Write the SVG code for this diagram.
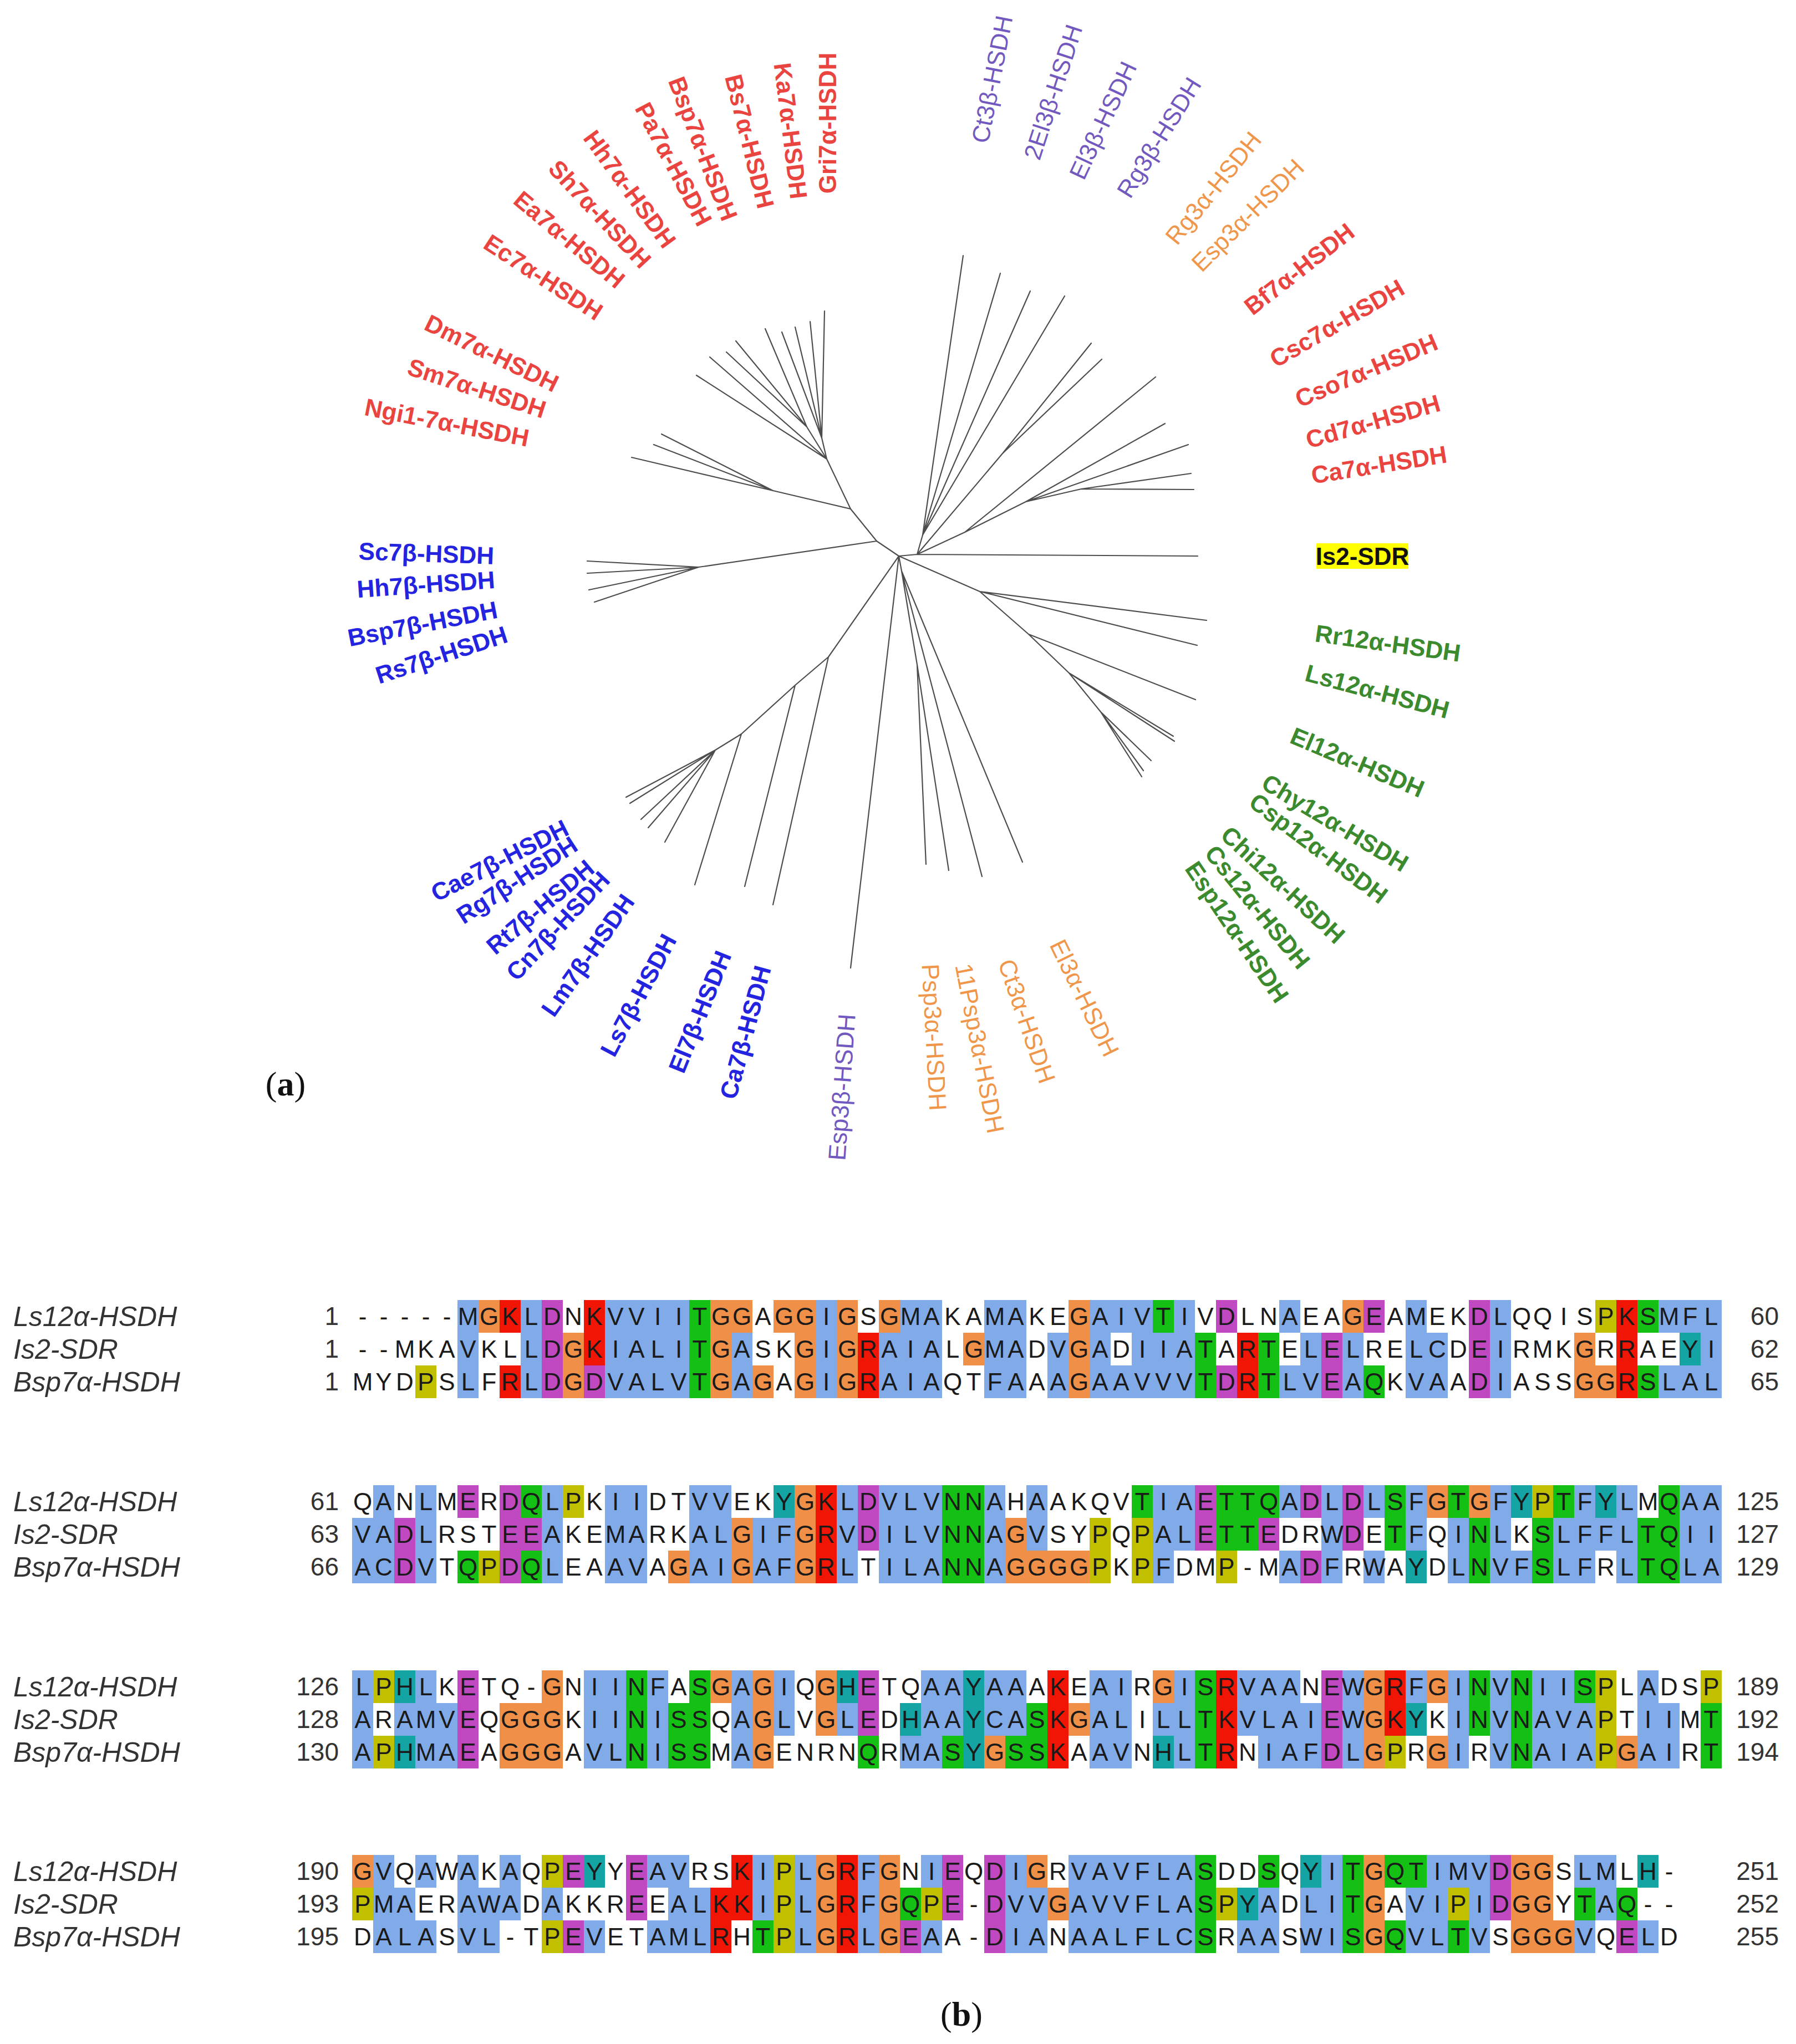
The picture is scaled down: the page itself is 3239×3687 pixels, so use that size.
<svg xmlns="http://www.w3.org/2000/svg" width="3239" height="3687" viewBox="0 0 3239 3687">
<style>
.ln{stroke:#4d4d4d;stroke-width:2.2;fill:none;stroke-linecap:round}
.t{font-family:"Liberation Sans",Arial,sans-serif;font-size:44px;text-anchor:middle;dominant-baseline:central}
.bd{font-weight:bold}
.red{fill:#ea4440}.blu{fill:#2323e0}.grn{fill:#3b8a2e}.pur{fill:#7259c0}.org{fill:#f0964a}
.b{fill:#80aae8}.r{fill:#f01505}.m{fill:#c048c0}.g{fill:#15c015}.o{fill:#f09048}.y{fill:#c0c000}.c{fill:#15a4a4}
.seq{font-family:"Liberation Sans",Arial,sans-serif;font-size:44px;text-anchor:middle;fill:#1a1a1a}
.nm{font-family:"Liberation Sans",Arial,sans-serif;font-size:50px;font-style:italic;fill:#333}
.num{font-family:"Liberation Sans",Arial,sans-serif;font-size:46px;text-anchor:end;fill:#333}
.pl{font-family:"Liberation Serif","Times New Roman",serif;font-size:62px;text-anchor:middle;fill:#111}
</style>
<rect width="3239" height="3687" fill="#fff"/>

<g id="connectors">
<path class="ln" d="M1581 976L1621 1003M1621 1003L1654 1000M1654 1000L2160 1003
M1581 976L1534 918M1534 918L1491 828M1491 828L1482 790M1482 790L1487 561M1482 790L1461 580M1482 790L1434 590M1482 790L1410 599
M1491 828L1455 770M1455 770L1380 593M1455 770L1327 615M1455 770L1310 635M1491 828L1280 644M1491 828L1256 677
M1534 918L1394 885M1394 885L1193 783M1394 885L1179 802M1394 885L1139 825
M1581 976L1260 1023M1260 1023L1059 1012M1260 1023L1059 1034M1260 1023L1062 1064M1260 1023L1072 1086
M1654 1000L1664 965M1664 965L1737 461M1664 965L1804 493M1664 965L1858 525M1664 965L1920 534
M1654 1000L1808 818M1808 818L1968 619M1808 818L1987 648
M1654 1000L1740 960M1740 960L2084 680M1740 960L1850 905M1850 905L2101 764M1850 905L2143 802M1850 905L1950 882M1950 882L2148 854M1950 882L2153 883
M1621 1003L1767 1067M1767 1067L2176 1119M1767 1067L2159 1164M1767 1067L1855 1144M1855 1144L2156 1262M1855 1144L1928 1214M1928 1214L2116 1328M1928 1214L2118 1337M1928 1214L1985 1284M1985 1284L2076 1372M1985 1284L2062 1390M1985 1284L2059 1401
M1621 1003L1626 1030M1626 1030L1844 1555M1626 1030L1771 1581M1626 1030L1654 1199M1654 1199L1711 1570M1654 1199L1670 1559
M1621 1003L1534 1746
M1621 1003L1494 1185M1494 1185L1394 1632M1494 1185L1434 1236M1434 1236L1343 1599M1434 1236L1337 1324M1337 1324L1253 1596M1337 1324L1290 1353
M1290 1353L1199 1519M1290 1353L1169 1493M1290 1353L1156 1478M1290 1353L1136 1449M1290 1353L1129 1438"/>
</g>

<g id="tree-labels">
<g id="n-gri"><text class="t bd red" transform="translate(1492,222) rotate(-90)">Gri7α-HSDH</text></g>
<g id="n-ka"><text class="t bd red" transform="translate(1426,236) rotate(83)">Ka7α-HSDH</text></g>
<g id="n-bs"><text class="t bd red" transform="translate(1352,255) rotate(76)">Bs7α-HSDH</text></g>
<g id="n-bsp"><text class="t bd red" transform="translate(1268,268) rotate(69)">Bsp7α-HSDH</text></g>
<g id="n-pa"><text class="t bd red" transform="translate(1215,296) rotate(62)">Pa7α-HSDH</text></g>
<g id="n-hh"><text class="t bd red" transform="translate(1136,341) rotate(54)">Hh7α-HSDH</text></g>
<g id="n-sh"><text class="t bd red" transform="translate(1082,386) rotate(47)">Sh7α-HSDH</text></g>
<g id="n-ea"><text class="t bd red" transform="translate(1027,432) rotate(40)">Ea7α-HSDH</text></g>
<g id="n-ec"><text class="t bd red" transform="translate(980,500) rotate(33)">Ec7α-HSDH</text></g>
<g id="n-dm"><text class="t bd red" transform="translate(887,637) rotate(26)">Dm7α-HSDH</text></g>
<g id="n-sm"><text class="t bd red" transform="translate(860,700) rotate(18)">Sm7α-HSDH</text></g>
<g id="n-ngi"><text class="t bd red" transform="translate(806,762) rotate(11)">Ngi1-7α-HSDH</text></g>

<g id="n-sc7b"><text class="t bd blu" transform="translate(769,998) rotate(2)">Sc7β-HSDH</text></g>
<g id="n-hh7b"><text class="t bd blu" transform="translate(768,1054) rotate(-4)">Hh7β-HSDH</text></g>
<g id="n-bsp7b"><text class="t bd blu" transform="translate(762,1125) rotate(-11)">Bsp7β-HSDH</text></g>
<g id="n-rs7b"><text class="t bd blu" transform="translate(796,1181) rotate(-18)">Rs7β-HSDH</text></g>
<g id="n-cae7b"><text class="t bd blu" transform="translate(901,1552) rotate(-27)">Cae7β-HSDH</text></g>
<g id="n-rg7b"><text class="t bd blu" transform="translate(932,1587) rotate(-33)">Rg7β-HSDH</text></g>
<g id="n-rt7b"><text class="t bd blu" transform="translate(974,1636) rotate(-40)">Rt7β-HSDH</text></g>
<g id="n-cn7b"><text class="t bd blu" transform="translate(1006,1670) rotate(-47)">Cn7β-HSDH</text></g>
<g id="n-lm7b"><text class="t bd blu" transform="translate(1060,1723) rotate(-55)">Lm7β-HSDH</text></g>
<g id="n-ls7b"><text class="t bd blu" transform="translate(1151,1795) rotate(-62)">Ls7β-HSDH</text></g>
<g id="n-el7b"><text class="t bd blu" transform="translate(1262,1825) rotate(-68)">El7β-HSDH</text></g>
<g id="n-ca7b"><text class="t bd blu" transform="translate(1344,1862) rotate(-75)">Ca7β-HSDH</text></g>

<g id="n-esp3b"><text class="t pur" transform="translate(1518,1961) rotate(-86)">Esp3β-HSDH</text></g>
<g id="n-ct3b"><text class="t pur" transform="translate(1789,143) rotate(-79)">Ct3β-HSDH</text></g>
<g id="n-2el3b"><text class="t pur" transform="translate(1899,166) rotate(-72)">2El3β-HSDH</text></g>
<g id="n-el3b"><text class="t pur" transform="translate(1989,217) rotate(-65)">El3β-HSDH</text></g>
<g id="n-rg3b"><text class="t pur" transform="translate(2090,248) rotate(-58)">Rg3β-HSDH</text></g>

<g id="n-psp3a"><text class="t org" transform="translate(1685,1871) rotate(87)">Psp3α-HSDH</text></g>
<g id="n-11psp3a"><text class="t org" transform="translate(1767,1891) rotate(79)">11Psp3α-HSDH</text></g>
<g id="n-ct3a"><text class="t org" transform="translate(1852,1842) rotate(71)">Ct3α-HSDH</text></g>
<g id="n-el3a"><text class="t org" transform="translate(1956,1800) rotate(64)">El3α-HSDH</text></g>
<g id="n-rg3a"><text class="t org" transform="translate(2188,339) rotate(-51)">Rg3α-HSDH</text></g>
<g id="n-esp3a"><text class="t org" transform="translate(2250,388) rotate(-45)">Esp3α-HSDH</text></g>

<g id="n-esp12a"><text class="t bd grn" transform="translate(2231,1681) rotate(56)">Esp12α-HSDH</text></g>
<g id="n-cs12a"><text class="t bd grn" transform="translate(2268,1636) rotate(51)">Cs12α-HSDH</text></g>
<g id="n-chi12a"><text class="t bd grn" transform="translate(2314,1596) rotate(43)">Chi12α-HSDH</text></g>
<g id="n-csp12a"><text class="t bd grn" transform="translate(2378,1530) rotate(37)">Csp12α-HSDH</text></g>
<g id="n-chy12a"><text class="t bd grn" transform="translate(2408,1484) rotate(31)">Chy12α-HSDH</text></g>
<g id="n-el12a"><text class="t bd grn" transform="translate(2448,1375) rotate(23)">El12α-HSDH</text></g>
<g id="n-ls12a"><text class="t bd grn" transform="translate(2484,1247) rotate(15)">Ls12α-HSDH</text></g>
<g id="n-rr12a"><text class="t bd grn" transform="translate(2503,1160) rotate(8)">Rr12α-HSDH</text></g>

<g id="n-is2"><rect x="2374" y="980" width="166" height="46" fill="#ffff00"/><text class="t bd" fill="#111" x="2457" y="1003">Is2-SDR</text></g>

<g id="n-ca7a"><text class="t bd red" transform="translate(2487,838) rotate(-9)">Ca7α-HSDH</text></g>
<g id="n-cd7a"><text class="t bd red" transform="translate(2476,760) rotate(-16)">Cd7α-HSDH</text></g>
<g id="n-cso7a"><text class="t bd red" transform="translate(2464,668) rotate(-23)">Cso7α-HSDH</text></g>
<g id="n-csc7a"><text class="t bd red" transform="translate(2411,583) rotate(-30)">Csc7α-HSDH</text></g>
<g id="n-bf7a"><text class="t bd red" transform="translate(2343,485) rotate(-38)">Bf7α-HSDH</text></g>
</g>

<text class="pl" x="515" y="1976">(<tspan font-weight="bold">a</tspan>)</text>
<text class="pl" x="1734" y="3654">(<tspan font-weight="bold">b</tspan>)</text>

<g id="alignment-colours" shape-rendering="crispEdges">
<g transform="translate(635,2345) scale(38,59)">
<path class="b" d="M5 0h1v1h-1zM8 0h1v1h-1zM12 0h4v1h-4zM22 0h1v1h-1zM26 0h2v1h-2zM30 0h2v1h-2zM35 0h3v1h-3zM39 0h1v1h-1zM44 0h1v1h-1zM50 0h1v1h-1zM54 0h1v1h-1zM62 0h3v1h-3zM5 1h1v1h-1zM8 1h1v1h-1zM12 1h4v1h-4zM18 1h1v1h-1zM22 1h1v1h-1zM25 1h3v1h-3zM30 1h2v1h-2zM33 1h1v1h-1zM35 1h1v1h-1zM37 1h3v1h-3zM45 1h1v1h-1zM47 1h1v1h-1zM50 1h2v1h-2zM54 1h1v1h-1zM64 1h1v1h-1zM5 2h1v1h-1zM8 2h1v1h-1zM12 2h4v1h-4zM18 2h1v1h-1zM22 2h1v1h-1zM25 2h3v1h-3zM30 2h2v1h-2zM33 2h1v1h-1zM35 2h5v1h-5zM44 2h2v1h-2zM47 2h1v1h-1zM50 2h2v1h-2zM54 2h1v1h-1zM62 2h3v1h-3z"/>
<path class="o" d="M6 0h1v1h-1zM17 0h2v1h-2zM20 0h2v1h-2zM23 0h1v1h-1zM25 0h1v1h-1zM34 0h1v1h-1zM47 0h1v1h-1zM10 1h1v1h-1zM17 1h1v1h-1zM21 1h1v1h-1zM23 1h1v1h-1zM29 1h1v1h-1zM34 1h1v1h-1zM58 1h1v1h-1zM10 2h1v1h-1zM17 2h1v1h-1zM19 2h1v1h-1zM21 2h1v1h-1zM23 2h1v1h-1zM34 2h1v1h-1zM58 2h2v1h-2z"/>
<path class="r" d="M7 0h1v1h-1zM11 0h1v1h-1zM60 0h1v1h-1zM11 1h1v1h-1zM24 1h1v1h-1zM42 1h1v1h-1zM60 1h1v1h-1zM7 2h1v1h-1zM24 2h1v1h-1zM42 2h1v1h-1zM60 2h1v1h-1z"/>
<path class="m" d="M9 0h1v1h-1zM41 0h1v1h-1zM48 0h1v1h-1zM53 0h1v1h-1zM9 1h1v1h-1zM46 1h1v1h-1zM53 1h1v1h-1zM9 2h1v1h-1zM11 2h1v1h-1zM41 2h1v1h-1zM46 2h1v1h-1zM53 2h1v1h-1z"/>
<path class="g" d="M16 0h1v1h-1zM38 0h1v1h-1zM61 0h1v1h-1zM16 1h1v1h-1zM40 1h1v1h-1zM43 1h1v1h-1zM16 2h1v1h-1zM40 2h1v1h-1zM43 2h1v1h-1zM48 2h1v1h-1zM61 2h1v1h-1z"/>
<path class="y" d="M59 0h1v1h-1zM3 2h1v1h-1z"/>
<path class="c" d="M63 1h1v1h-1z"/>
</g>
<g transform="translate(635,2679) scale(38,59)">
<path class="b" d="M1 0h1v1h-1zM3 0h1v1h-1zM9 0h1v1h-1zM12 0h2v1h-2zM16 0h2v1h-2zM23 0h1v1h-1zM25 0h3v1h-3zM30 0h1v1h-1zM32 0h1v1h-1zM38 0h2v1h-2zM44 0h1v1h-1zM46 0h1v1h-1zM48 0h1v1h-1zM50 0h1v1h-1zM54 0h1v1h-1zM58 0h1v1h-1zM60 0h1v1h-1zM63 0h2v1h-2zM0 1h2v1h-2zM3 1h1v1h-1zM9 1h1v1h-1zM12 1h2v1h-2zM16 1h2v1h-2zM19 1h2v1h-2zM23 1h1v1h-1zM25 1h3v1h-3zM30 1h1v1h-1zM32 1h1v1h-1zM38 1h2v1h-2zM46 1h1v1h-1zM50 1h1v1h-1zM52 1h1v1h-1zM54 1h1v1h-1zM57 1h4v1h-4zM63 1h2v1h-2zM0 2h2v1h-2zM3 2h1v1h-1zM9 2h1v1h-1zM12 2h2v1h-2zM16 2h2v1h-2zM19 2h2v1h-2zM23 2h1v1h-1zM25 2h3v1h-3zM30 2h1v1h-1zM38 2h1v1h-1zM44 2h1v1h-1zM46 2h1v1h-1zM48 2h1v1h-1zM52 2h1v1h-1zM54 2h2v1h-2zM57 2h2v1h-2zM60 2h1v1h-1zM63 2h2v1h-2z"/>
<path class="m" d="M5 0h1v1h-1zM7 0h1v1h-1zM24 0h1v1h-1zM40 0h1v1h-1zM45 0h1v1h-1zM47 0h1v1h-1zM2 1h1v1h-1zM7 1h2v1h-2zM24 1h1v1h-1zM40 1h1v1h-1zM43 1h1v1h-1zM47 1h1v1h-1zM2 2h1v1h-1zM7 2h1v1h-1zM45 2h1v1h-1z"/>
<path class="g" d="M8 0h1v1h-1zM28 0h2v1h-2zM37 0h1v1h-1zM41 0h3v1h-3zM49 0h1v1h-1zM52 0h1v1h-1zM57 0h1v1h-1zM62 0h1v1h-1zM28 1h2v1h-2zM41 1h2v1h-2zM49 1h1v1h-1zM53 1h1v1h-1zM56 1h1v1h-1zM61 1h2v1h-2zM5 2h1v1h-1zM8 2h1v1h-1zM28 2h2v1h-2zM53 2h1v1h-1zM56 2h1v1h-1zM61 2h2v1h-2z"/>
<path class="y" d="M10 0h1v1h-1zM56 0h1v1h-1zM35 1h1v1h-1zM37 1h1v1h-1zM6 2h1v1h-1zM35 2h1v1h-1zM37 2h1v1h-1zM41 2h1v1h-1z"/>
<path class="c" d="M20 0h1v1h-1zM55 0h1v1h-1zM59 0h1v1h-1zM50 2h1v1h-1z"/>
<path class="o" d="M21 0h1v1h-1zM51 0h1v1h-1zM53 0h1v1h-1zM18 1h1v1h-1zM21 1h1v1h-1zM31 1h1v1h-1zM15 2h1v1h-1zM18 2h1v1h-1zM21 2h1v1h-1zM31 2h4v1h-4z"/>
<path class="r" d="M22 0h1v3h-1z"/>
</g>
<g transform="translate(635,3013) scale(38,59)">
<path class="b" d="M0 0h1v1h-1zM3 0h1v1h-1zM11 0h2v1h-2zM14 0h1v1h-1zM18 0h1v1h-1zM20 0h1v1h-1zM27 0h2v1h-2zM30 0h2v1h-2zM35 0h2v1h-2zM39 0h1v1h-1zM42 0h3v1h-3zM47 0h1v1h-1zM50 0h1v1h-1zM52 0h1v1h-1zM54 0h1v1h-1zM56 0h2v1h-2zM61 0h1v1h-1zM0 1h1v1h-1zM2 1h3v1h-3zM11 1h2v1h-2zM14 1h1v1h-1zM18 1h1v1h-1zM20 1h1v1h-1zM23 1h1v1h-1zM27 1h2v1h-2zM30 1h2v1h-2zM35 1h2v1h-2zM38 1h2v1h-2zM42 1h4v1h-4zM47 1h1v1h-1zM52 1h1v1h-1zM54 1h1v1h-1zM56 1h3v1h-3zM61 1h2v1h-2zM0 2h1v1h-1zM3 2h2v1h-2zM11 2h2v1h-2zM14 2h1v1h-1zM18 2h1v1h-1zM26 2h2v1h-2zM35 2h2v1h-2zM39 2h1v1h-1zM43 2h3v1h-3zM47 2h1v1h-1zM52 2h1v1h-1zM54 2h1v1h-1zM56 2h3v1h-3zM61 2h2v1h-2z"/>
<path class="y" d="M1 0h1v1h-1zM59 0h1v1h-1zM64 0h1v1h-1zM59 1h1v1h-1zM1 2h1v1h-1zM49 2h1v1h-1zM59 2h1v1h-1z"/>
<path class="c" d="M2 0h1v1h-1zM23 0h1v1h-1zM29 0h1v1h-1zM26 1h1v1h-1zM29 1h1v1h-1zM50 1h1v1h-1zM2 2h1v1h-1zM29 2h1v1h-1zM38 2h1v1h-1z"/>
<path class="m" d="M5 0h1v1h-1zM24 0h1v1h-1zM46 0h1v1h-1zM5 1h1v1h-1zM24 1h1v1h-1zM46 1h1v1h-1zM5 2h1v1h-1zM46 2h1v1h-1z"/>
<path class="o" d="M9 0h1v1h-1zM17 0h1v1h-1zM19 0h1v1h-1zM22 0h1v1h-1zM38 0h1v1h-1zM48 0h1v1h-1zM51 0h1v1h-1zM7 1h3v1h-3zM19 1h1v1h-1zM22 1h1v1h-1zM34 1h1v1h-1zM48 1h1v1h-1zM7 2h3v1h-3zM19 2h1v1h-1zM30 2h1v1h-1zM48 2h1v1h-1zM51 2h1v1h-1zM60 2h1v1h-1z"/>
<path class="g" d="M13 0h1v1h-1zM16 0h1v1h-1zM40 0h1v1h-1zM53 0h1v1h-1zM55 0h1v1h-1zM58 0h1v1h-1zM13 1h1v1h-1zM15 1h2v1h-2zM32 1h1v1h-1zM40 1h1v1h-1zM53 1h1v1h-1zM55 1h1v1h-1zM64 1h1v1h-1zM13 2h1v1h-1zM15 2h2v1h-2zM24 2h1v1h-1zM28 2h1v1h-1zM31 2h2v1h-2zM40 2h1v1h-1zM55 2h1v1h-1zM64 2h1v1h-1z"/>
<path class="r" d="M33 0h1v3h-1zM41 0h1v3h-1zM49 0h1v2h-1z"/>
</g>
<g transform="translate(635,3346) scale(38,59)">
<path class="o" d="M0 0h1v1h-1zM22 0h1v3h-1zM25 0h1v3h-1zM32 0h1v1h-1zM48 0h1v3h-1zM55 0h2v3h-2zM33 1h1v1h-1zM57 2h1v1h-1z"/>
<path class="b" d="M1 0h1v1h-1zM3 0h1v1h-1zM5 0h1v1h-1zM7 0h1v1h-1zM14 0h2v1h-2zM19 0h1v1h-1zM21 0h1v1h-1zM24 0h1v1h-1zM27 0h1v1h-1zM31 0h1v1h-1zM34 0h6v1h-6zM46 0h1v1h-1zM51 0h3v1h-3zM58 0h2v1h-2zM1 1h2v1h-2zM5 1h3v1h-3zM9 1h1v1h-1zM15 1h2v1h-2zM19 1h1v1h-1zM21 1h1v1h-1zM24 1h1v1h-1zM31 1h2v1h-2zM34 1h6v1h-6zM43 1h1v1h-1zM45 1h2v1h-2zM50 1h2v1h-2zM53 1h1v1h-1zM59 1h1v1h-1zM1 2h3v1h-3zM5 2h2v1h-2zM11 2h1v1h-1zM14 2h3v1h-3zM21 2h1v1h-1zM24 2h1v1h-1zM27 2h1v1h-1zM31 2h2v1h-2zM34 2h6v1h-6zM42 2h2v1h-2zM45 2h2v1h-2zM50 2h2v1h-2zM53 2h1v1h-1zM58 2h1v1h-1zM61 2h1v1h-1z"/>
<path class="y" d="M9 0h1v1h-1zM20 0h1v3h-1zM0 1h1v1h-1zM27 1h1v1h-1zM41 1h1v1h-1zM52 1h1v1h-1zM9 2h1v1h-1z"/>
<path class="m" d="M10 0h1v1h-1zM13 0h1v2h-1zM28 0h1v2h-1zM30 0h1v3h-1zM54 0h1v2h-1zM10 2h1v1h-1zM26 2h1v1h-1zM60 2h1v1h-1z"/>
<path class="c" d="M11 0h1v1h-1zM45 0h1v1h-1zM61 0h1v1h-1zM42 1h1v1h-1z"/>
<path class="r" d="M18 0h1v2h-1zM17 1h1v2h-1zM23 0h1v3h-1z"/>
<path class="g" d="M40 0h1v3h-1zM43 0h1v1h-1zM47 0h1v3h-1zM49 0h2v1h-2zM26 1h1v1h-1zM58 1h1v1h-1zM60 1h1v1h-1zM19 2h1v1h-1zM49 2h1v1h-1zM52 2h1v1h-1z"/>
</g>
</g>

<g id="alignment-names">
<text class="nm" x="24" y="2392">Ls12α-HSDH</text><text class="nm" x="24" y="2451">Is2-SDR</text><text class="nm" x="24" y="2510">Bsp7α-HSDH</text>
<text class="nm" x="24" y="2726">Ls12α-HSDH</text><text class="nm" x="24" y="2785">Is2-SDR</text><text class="nm" x="24" y="2844">Bsp7α-HSDH</text>
<text class="nm" x="24" y="3060">Ls12α-HSDH</text><text class="nm" x="24" y="3119">Is2-SDR</text><text class="nm" x="24" y="3178">Bsp7α-HSDH</text>
<text class="nm" x="24" y="3393">Ls12α-HSDH</text><text class="nm" x="24" y="3452">Is2-SDR</text><text class="nm" x="24" y="3511">Bsp7α-HSDH</text>
</g>

<g id="alignment-numbers">
<text class="num" x="611" y="2390">1</text><text class="num" x="611" y="2449">1</text><text class="num" x="611" y="2508">1</text>
<text class="num" x="3208" y="2390">60</text><text class="num" x="3208" y="2449">62</text><text class="num" x="3208" y="2508">65</text>
<text class="num" x="611" y="2724">61</text><text class="num" x="611" y="2783">63</text><text class="num" x="611" y="2842">66</text>
<text class="num" x="3208" y="2724">125</text><text class="num" x="3208" y="2783">127</text><text class="num" x="3208" y="2842">129</text>
<text class="num" x="611" y="3058">126</text><text class="num" x="611" y="3117">128</text><text class="num" x="611" y="3176">130</text>
<text class="num" x="3208" y="3058">189</text><text class="num" x="3208" y="3117">192</text><text class="num" x="3208" y="3176">194</text>
<text class="num" x="611" y="3391">190</text><text class="num" x="611" y="3450">193</text><text class="num" x="611" y="3509">195</text>
<text class="num" x="3208" y="3391">251</text><text class="num" x="3208" y="3450">252</text><text class="num" x="3208" y="3509">255</text>
</g>

<g id="alignment-residues" class="seq" transform="translate(654,0)">
<text y="2390" x="0 38 76 114 152 190 228 266 304 342 380 418 456 494 532 570 608 646 684 722 760 798 836 874 912 950 988 1026 1064 1102 1140 1178 1216 1254 1292 1330 1368 1406 1444 1482 1520 1558 1596 1634 1672 1710 1748 1786 1824 1862 1900 1938 1976 2014 2052 2090 2128 2166 2204 2242 2280 2318 2356 2394 2432">-----MGKLDNKVVIITGGAGGIGSGMAKAMAKEGAIVTIVDLNAEAGEAMEKDLQQISPKSMFL</text>
<text y="2449" x="0 38 76 114 152 190 228 266 304 342 380 418 456 494 532 570 608 646 684 722 760 798 836 874 912 950 988 1026 1064 1102 1140 1178 1216 1254 1292 1330 1368 1406 1444 1482 1520 1558 1596 1634 1672 1710 1748 1786 1824 1862 1900 1938 1976 2014 2052 2090 2128 2166 2204 2242 2280 2318 2356 2394 2432">--MKAVKLLDGKIALITGASKGIGRAIALGMADVGADIIATARTELELRELCDEIRMKGRRAEYI</text>
<text y="2508" x="0 38 76 114 152 190 228 266 304 342 380 418 456 494 532 570 608 646 684 722 760 798 836 874 912 950 988 1026 1064 1102 1140 1178 1216 1254 1292 1330 1368 1406 1444 1482 1520 1558 1596 1634 1672 1710 1748 1786 1824 1862 1900 1938 1976 2014 2052 2090 2128 2166 2204 2242 2280 2318 2356 2394 2432">MYDPSLFRLDGDVALVTGAGAGIGRAIAQTFAAAGAAVVVTDRTLVEAQKVAADIASSGGRSLAL</text>
<text y="2724" x="0 38 76 114 152 190 228 266 304 342 380 418 456 494 532 570 608 646 684 722 760 798 836 874 912 950 988 1026 1064 1102 1140 1178 1216 1254 1292 1330 1368 1406 1444 1482 1520 1558 1596 1634 1672 1710 1748 1786 1824 1862 1900 1938 1976 2014 2052 2090 2128 2166 2204 2242 2280 2318 2356 2394 2432">QANLMERDQLPKIIDTVVEKYGKLDVLVNNAHAAKQVTIAETTQADLDLSFGTGFYPTFYLMQAA</text>
<text y="2783" x="0 38 76 114 152 190 228 266 304 342 380 418 456 494 532 570 608 646 684 722 760 798 836 874 912 950 988 1026 1064 1102 1140 1178 1216 1254 1292 1330 1368 1406 1444 1482 1520 1558 1596 1634 1672 1710 1748 1786 1824 1862 1900 1938 1976 2014 2052 2090 2128 2166 2204 2242 2280 2318 2356 2394 2432">VADLRSTEEAKEMARKALGIFGRVDILVNNAGVSYPQPALETTEDRWDETFQINLKSLFFLTQII</text>
<text y="2842" x="0 38 76 114 152 190 228 266 304 342 380 418 456 494 532 570 608 646 684 722 760 798 836 874 912 950 988 1026 1064 1102 1140 1178 1216 1254 1292 1330 1368 1406 1444 1482 1520 1558 1596 1634 1672 1710 1748 1786 1824 1862 1900 1938 1976 2014 2052 2090 2128 2166 2204 2242 2280 2318 2356 2394 2432">ACDVTQPDQLEAAVAGAIGAFGRLTILANNAGGGGPKPFDMP-MADFRWAYDLNVFSLFRLTQLA</text>
<text y="3058" x="0 38 76 114 152 190 228 266 304 342 380 418 456 494 532 570 608 646 684 722 760 798 836 874 912 950 988 1026 1064 1102 1140 1178 1216 1254 1292 1330 1368 1406 1444 1482 1520 1558 1596 1634 1672 1710 1748 1786 1824 1862 1900 1938 1976 2014 2052 2090 2128 2166 2204 2242 2280 2318 2356 2394 2432">LPHLKETQ-GNIINFASGAGIQGHETQAAYAAAKEAIRGISRVAANEWGRFGINVNIISPLADSP</text>
<text y="3117" x="0 38 76 114 152 190 228 266 304 342 380 418 456 494 532 570 608 646 684 722 760 798 836 874 912 950 988 1026 1064 1102 1140 1178 1216 1254 1292 1330 1368 1406 1444 1482 1520 1558 1596 1634 1672 1710 1748 1786 1824 1862 1900 1938 1976 2014 2052 2090 2128 2166 2204 2242 2280 2318 2356 2394 2432">ARAMVEQGGGKIINISSQAGLVGLEDHAAYCASKGALILLTKVLAIEWGKYKINVNAVAPTIIMT</text>
<text y="3176" x="0 38 76 114 152 190 228 266 304 342 380 418 456 494 532 570 608 646 684 722 760 798 836 874 912 950 988 1026 1064 1102 1140 1178 1216 1254 1292 1330 1368 1406 1444 1482 1520 1558 1596 1634 1672 1710 1748 1786 1824 1862 1900 1938 1976 2014 2052 2090 2128 2166 2204 2242 2280 2318 2356 2394 2432">APHMAEAGGGAVLNISSMAGENRNQRMASYGSSKAAVNHLTRNIAFDLGPRGIRVNAIAPGAIRT</text>
<text y="3391" x="0 38 76 114 152 190 228 266 304 342 380 418 456 494 532 570 608 646 684 722 760 798 836 874 912 950 988 1026 1064 1102 1140 1178 1216 1254 1292 1330 1368 1406 1444 1482 1520 1558 1596 1634 1672 1710 1748 1786 1824 1862 1900 1938 1976 2014 2052 2090 2128 2166 2204 2242 2280 2318 2356">GVQAWAKAQPEYYEAVRSKIPLGRFGNIEQDIGRVAVFLASDDSQYITGQTIMVDGGSLMLH-</text>
<text y="3450" x="0 38 76 114 152 190 228 266 304 342 380 418 456 494 532 570 608 646 684 722 760 798 836 874 912 950 988 1026 1064 1102 1140 1178 1216 1254 1292 1330 1368 1406 1444 1482 1520 1558 1596 1634 1672 1710 1748 1786 1824 1862 1900 1938 1976 2014 2052 2090 2128 2166 2204 2242 2280 2318 2356">PMAERAWADAKKREEALKKIPLGRFGQPE-DVVGAVVFLASPYADLITGAVIPIDGGYTAQ--</text>
<text y="3509" x="0 38 76 114 152 190 228 266 304 342 380 418 456 494 532 570 608 646 684 722 760 798 836 874 912 950 988 1026 1064 1102 1140 1178 1216 1254 1292 1330 1368 1406 1444 1482 1520 1558 1596 1634 1672 1710 1748 1786 1824 1862 1900 1938 1976 2014 2052 2090 2128 2166 2204 2242 2280 2318 2356">DALASVL-TPEVETAMLRHTPLGRLGEAA-DIANAALFLCSRAASWISGQVLTVSGGGVQELD</text>
</g>
</svg>
